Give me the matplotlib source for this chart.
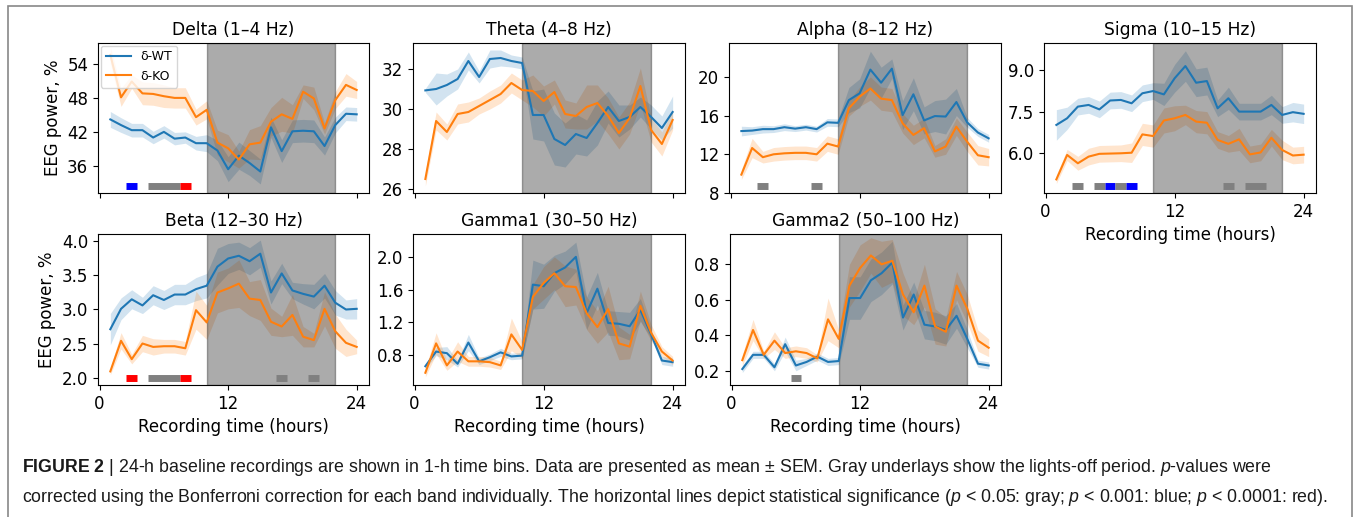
import numpy as np
import matplotlib
matplotlib.use('Agg')
import matplotlib.pyplot as plt
from matplotlib.patches import Rectangle
import matplotlib.transforms as mtransforms

plt.rcParams['mathtext.fontset'] = 'custom'
plt.rcParams['mathtext.rm'] = 'Liberation Sans'
plt.rcParams['mathtext.it'] = 'Liberation Sans:italic'
plt.rcParams['mathtext.bf'] = 'Liberation Sans:bold'

## Data (mean and SEM per 1-h bin)

hours = np.arange(1, 25)

delta_wt = [44.2, 43.2, 42.3, 42.3, 41.0, 42.0, 40.8, 41.0, 40.0, 40.0, 38.7, 35.4,
            37.8, 36.5, 35.0, 42.8, 38.6, 42.1, 42.2, 42.1, 39.5, 43.2, 45.2, 45.1]
delta_wt_sem = [1.4, 1.3, 1.2, 1.2, 1.1, 1.1, 1.1, 1.0, 1.2, 1.5, 1.8, 2.2,
                2.4, 2.2, 2.2, 1.8, 2.0, 2.0, 2.0, 2.0, 1.6, 1.4, 1.2, 1.2]
delta_ko = [55.6, 48.1, 50.9, 48.8, 48.7, 48.3, 48.0, 48.0, 44.6, 45.9, 40.1, 39.1,
            37.1, 39.8, 40.1, 43.8, 45.1, 44.3, 49.1, 47.9, 42.6, 47.6, 50.3, 49.4]
delta_ko_sem = [1.5, 1.6, 1.2, 2.0, 2.0, 2.0, 1.8, 1.8, 1.4, 1.6, 2.2, 2.4,
                1.5, 2.6, 3.0, 2.5, 3.0, 2.5, 1.2, 2.0, 1.0, 1.5, 2.0, 1.5]

theta_wt = [30.93, 31.0, 31.2, 31.5, 32.4, 31.6, 32.5, 32.55, 32.4, 32.3, 29.7, 29.7,
            28.5, 28.2, 28.75, 28.55, 29.3, 30.1, 29.4, 29.6, 30.1, 29.6, 29.05, 29.85]
theta_wt_sem = [0.1, 0.8, 0.55, 0.5, 0.45, 0.3, 0.45, 0.4, 0.3, 0.3, 1.2, 1.3,
                1.3, 1.1, 1.0, 0.9, 1.1, 0.8, 0.8, 0.6, 0.5, 0.6, 0.6, 0.8]
theta_ko = [26.5, 29.4, 28.85, 29.75, 29.85, 30.15, 30.45, 30.75, 31.3, 30.95, 30.9, 30.4,
            30.85, 29.75, 29.65, 30.1, 30.3, 29.65, 28.8, 29.55, 31.15, 28.95, 28.25, 29.45]
theta_ko_sem = [0.35, 0.45, 0.4, 0.5, 0.5, 0.4, 0.45, 0.45, 0.5, 0.5, 0.8, 0.75,
                0.6, 0.7, 0.65, 1.1, 0.9, 0.9, 0.8, 0.8, 0.9, 0.6, 0.6, 0.5]

alpha_wt = [14.4, 14.45, 14.6, 14.6, 14.8, 14.65, 14.8, 14.6, 15.3, 15.25, 17.6, 18.3,
            20.75, 19.4, 20.85, 16.05, 18.2, 15.5, 15.95, 15.9, 17.4, 15.3, 14.25, 13.65]
alpha_wt_sem = [0.5, 0.4, 0.4, 0.35, 0.35, 0.3, 0.3, 0.3, 0.4, 0.4, 1.3, 1.5,
                1.9, 1.6, 1.0, 1.5, 1.7, 1.4, 1.6, 1.8, 1.4, 0.5, 0.4, 0.4]
alpha_ko = [9.9, 12.65, 11.7, 12.0, 12.1, 12.15, 12.15, 12.0, 13.1, 12.8, 16.75, 17.95,
            18.8, 17.75, 17.6, 15.2, 14.0, 14.7, 12.3, 12.8, 14.85, 13.3, 11.9, 11.7]
alpha_ko_sem = [0.5, 1.0, 0.6, 0.7, 0.7, 0.7, 0.7, 0.7, 0.8, 0.8, 0.8, 1.0,
                1.2, 1.2, 1.2, 1.0, 1.0, 1.0, 0.6, 0.8, 0.9, 1.0, 1.0, 0.9]

sigma_wt = [7.02, 7.26, 7.68, 7.74, 7.58, 7.9, 7.92, 7.8, 8.16, 8.24, 8.12, 8.7,
            9.14, 8.54, 8.6, 7.62, 7.98, 7.5, 7.5, 7.5, 7.74, 7.38, 7.48, 7.42]
sigma_wt_sem = [0.55, 0.4, 0.3, 0.3, 0.3, 0.3, 0.3, 0.3, 0.3, 0.3, 0.4, 0.5,
                0.55, 0.5, 0.5, 0.3, 0.4, 0.3, 0.3, 0.3, 0.35, 0.3, 0.35, 0.35]
sigma_ko = [5.06, 5.94, 5.64, 5.88, 5.98, 5.99, 6.0, 6.02, 6.68, 6.62, 7.18, 7.26,
            7.38, 7.14, 7.1, 6.48, 6.34, 6.5, 5.96, 6.03, 6.56, 6.12, 5.92, 5.95]
sigma_ko_sem = [0.15, 0.2, 0.25, 0.3, 0.3, 0.3, 0.3, 0.35, 0.4, 0.4, 0.45, 0.45,
                0.35, 0.4, 0.4, 0.3, 0.3, 0.4, 0.3, 0.3, 0.3, 0.35, 0.3, 0.3]

beta_wt = [2.71, 3.01, 3.15, 3.06, 3.21, 3.14, 3.22, 3.22, 3.30, 3.35, 3.63, 3.75,
           3.79, 3.71, 3.82, 3.25, 3.53, 3.28, 3.23, 3.19, 3.35, 3.10, 3.0, 3.01]
beta_wt_sem = [0.23, 0.16, 0.14, 0.12, 0.14, 0.14, 0.15, 0.15, 0.17, 0.18, 0.27, 0.22,
               0.2, 0.2, 0.2, 0.17, 0.15, 0.12, 0.15, 0.18, 0.18, 0.18, 0.14, 0.15]
beta_ko = [2.09, 2.54, 2.27, 2.50, 2.45, 2.46, 2.46, 2.43, 2.99, 2.81, 3.25, 3.31,
           3.38, 3.16, 3.14, 2.82, 2.75, 2.92, 2.60, 2.55, 3.01, 2.68, 2.51, 2.45]
beta_ko_sem = [0.05, 0.12, 0.07, 0.12, 0.12, 0.1, 0.1, 0.1, 0.28, 0.25, 0.3, 0.3,
               0.35, 0.25, 0.3, 0.2, 0.15, 0.3, 0.15, 0.1, 0.25, 0.25, 0.2, 0.1]

gamma1_wt = [0.66, 0.84, 0.82, 0.69, 0.95, 0.72, 0.77, 0.83, 0.78, 0.79, 1.66, 1.64,
             1.80, 1.87, 2.0, 1.31, 1.61, 1.19, 1.18, 1.15, 1.35, 1.05, 0.73, 0.71]
gamma1_wt_sem = [0.03, 0.05, 0.08, 0.04, 0.1, 0.04, 0.04, 0.05, 0.04, 0.04, 0.3, 0.27,
                 0.22, 0.2, 0.18, 0.2, 0.2, 0.15, 0.15, 0.17, 0.14, 0.05, 0.05, 0.05]
gamma1_ko = [0.58, 0.94, 0.67, 0.84, 0.72, 0.72, 0.71, 0.67, 1.05, 0.86, 1.51, 1.68,
             1.80, 1.64, 1.63, 1.31, 1.14, 1.36, 0.94, 0.90, 1.40, 1.07, 0.84, 0.73]
gamma1_ko_sem = [0.05, 0.13, 0.06, 0.12, 0.06, 0.06, 0.06, 0.05, 0.2, 0.1, 0.15, 0.2,
                 0.2, 0.25, 0.22, 0.2, 0.2, 0.28, 0.2, 0.15, 0.18, 0.1, 0.06, 0.05]

gamma2_wt = [0.21, 0.29, 0.29, 0.22, 0.35, 0.23, 0.25, 0.28, 0.25, 0.255, 0.61, 0.61,
             0.71, 0.75, 0.81, 0.50, 0.63, 0.46, 0.45, 0.43, 0.51, 0.38, 0.24, 0.23]
gamma2_wt_sem = [0.02, 0.02, 0.02, 0.02, 0.04, 0.03, 0.02, 0.02, 0.02, 0.02, 0.12, 0.12,
                 0.12, 0.12, 0.12, 0.07, 0.07, 0.08, 0.08, 0.08, 0.07, 0.05, 0.02, 0.02]
gamma2_ko = [0.26, 0.43, 0.29, 0.37, 0.30, 0.31, 0.30, 0.27, 0.49, 0.38, 0.68, 0.78,
             0.85, 0.80, 0.82, 0.63, 0.53, 0.68, 0.45, 0.42, 0.68, 0.55, 0.37, 0.33]
gamma2_ko_sem = [0.03, 0.06, 0.02, 0.05, 0.03, 0.03, 0.03, 0.02, 0.12, 0.05, 0.12, 0.13,
                 0.1, 0.13, 0.12, 0.12, 0.07, 0.12, 0.1, 0.08, 0.08, 0.08, 0.06, 0.05]

# significant hours and their level
delta_sig_hours = [3, 5, 6, 7, 8]
delta_sig_levels = ['blue', 'gray', 'gray', 'gray', 'red']
alpha_sig_hours = [3, 8]
alpha_sig_levels = ['gray', 'gray']
sigma_sig_hours = [3, 5, 6, 7, 8, 17, 19, 20]
sigma_sig_levels = ['gray', 'gray', 'blue', 'gray', 'blue', 'gray', 'gray', 'gray']
beta_sig_hours = [3, 5, 6, 7, 8, 17, 20]
beta_sig_levels = ['red', 'gray', 'gray', 'gray', 'red', 'gray', 'gray']
gamma2_sig_hours = [6]
gamma2_sig_levels = ['gray']

lights_off = (10, 22)

titles = ['Delta (1–4 Hz)', 'Theta (4–8 Hz)', 'Alpha (8–12 Hz)', 'Sigma (10–15 Hz)',
          'Beta (12–30 Hz)', 'Gamma1 (30–50 Hz)', 'Gamma2 (50–100 Hz)']

##

sig_colors = {'gray': '#808080', 'blue': '#0000ff', 'red': '#ff0000'}

panels = [
    (titles[0], delta_wt, delta_wt_sem, delta_ko, delta_ko_sem, delta_sig_hours, delta_sig_levels,
     [36, 42, 48, 54], (31.2, 57.7)),
    (titles[1], theta_wt, theta_wt_sem, theta_ko, theta_ko_sem, [], [],
     [26, 28, 30, 32], (25.8, 33.3)),
    (titles[2], alpha_wt, alpha_wt_sem, alpha_ko, alpha_ko_sem, alpha_sig_hours, alpha_sig_levels,
     [8, 12, 16, 20], (8.0, 23.5)),
    (titles[3], sigma_wt, sigma_wt_sem, sigma_ko, sigma_ko_sem, sigma_sig_hours, sigma_sig_levels,
     [6.0, 7.5, 9.0], (4.57, 9.97)),
    (titles[4], beta_wt, beta_wt_sem, beta_ko, beta_ko_sem, beta_sig_hours, beta_sig_levels,
     [2.0, 2.5, 3.0, 3.5, 4.0], (1.89, 4.11)),
    (titles[5], gamma1_wt, gamma1_wt_sem, gamma1_ko, gamma1_ko_sem, [], [],
     [0.8, 1.2, 1.6, 2.0], (0.43, 2.28)),
    (titles[6], gamma2_wt, gamma2_wt_sem, gamma2_ko, gamma2_ko_sem, gamma2_sig_hours, gamma2_sig_levels,
     [0.2, 0.4, 0.6, 0.8], (0.12, 0.971)),
]


def sig_runs(hrs, levs):
    ''' merge consecutive hours with the same level into one segment '''
    runs = []
    for h, lev in zip(hrs, levs):
        if runs and runs[-1][2] == lev and runs[-1][1] == h - 0.5:
            runs[-1][1] = h + 0.5
        else:
            runs.append([h - 0.5, h + 0.5, lev])
    return runs


W, H = 1354, 517
fig = plt.figure(figsize=(W/100, H/100), dpi=100)

# axes boxes in pixels: left, top, right, bottom
boxes = [(98, 43, 369, 193), (413, 43, 685, 193), (729, 43, 1001, 193), (1044, 43, 1316, 193),
         (98, 234, 369, 385), (413, 234, 685, 385), (730, 234, 1001, 385)]
one_decimal = [3, 4, 5, 6]

for k, (title, wt, wt_sem, ko, ko_sem, sh, sl, yt, yl) in enumerate(panels):
    l, t, r, b = boxes[k]
    ax = fig.add_axes([l/W, 1 - b/H, (r-l)/W, (b-t)/H])
    wt = np.array(wt); ko = np.array(ko)
    wt_sem = np.array(wt_sem); ko_sem = np.array(ko_sem)
    ax.fill_between(hours, wt - wt_sem, wt + wt_sem, color='C0', alpha=0.2, lw=0)
    ax.plot(hours, wt, color='C0', lw=1.5, label='δ-WT')
    ax.fill_between(hours, ko - ko_sem, ko + ko_sem, color='C1', alpha=0.2, lw=0)
    ax.plot(hours, ko, color='C1', lw=1.5, label='δ-KO')
    ax.axvspan(*lights_off, color='k', alpha=0.33)
    trans = mtransforms.blended_transform_factory(ax.transData, ax.transAxes)
    for x0, x1, lev in sig_runs(sh, sl):
        ax.plot([x0, x1], [0.047, 0.047], transform=trans,
                color=sig_colors[lev], lw=5, solid_capstyle='butt')
    ax.set_xlim(-0.15, 25.15)
    ax.set_ylim(*yl)
    ax.set_xticks([0, 12, 24])
    ax.set_yticks(yt)
    if k in one_decimal:
        ax.set_yticklabels(['{:.1f}'.format(v) for v in yt])
    ax.tick_params(labelsize=12)
    ax.set_title(title, fontsize=12.3)
    if k < 3:
        ax.set_xticklabels([])
    else:
        ax.set_xlabel('Recording time (hours)', fontsize=12)
    if k in (0, 4):
        ax.set_ylabel('EEG power, %', fontsize=12)
    if k == 0:
        ax.legend(loc='upper left', fontsize=9, borderaxespad=0.2, handlelength=2.0)

# outer frame of the figure panel
fig.add_artist(Rectangle((8/W, -0.05), (1352-8)/W, 1.05 - 6/H, transform=fig.transFigure,
                         fill=False, edgecolor='#888888', lw=1.2))

caption1 = (r'$\mathbf{FIGURE\ 2}$ | 24-h baseline recordings are shown in 1-h time bins. '
            r'Data are presented as mean ± SEM. Gray underlays show the lights-off period. '
            r'$\mathit{p}$-values were')
caption2 = (r'corrected using the Bonferroni correction for each band individually. '
            r'The horizontal lines depict statistical significance '
            r'($\mathit{p}$ < 0.05: gray; $\mathit{p}$ < 0.001: blue; $\mathit{p}$ < 0.0001: red).')
fig.text(22/W, 1 - 468/H, caption1, family='Liberation Sans', fontsize=12.8, va='center', color='#1a1a1a')
fig.text(22/W, 1 - 497/H, caption2, family='Liberation Sans', fontsize=12.8, va='center', color='#1a1a1a')

fig.savefig('out.png', dpi=100)
